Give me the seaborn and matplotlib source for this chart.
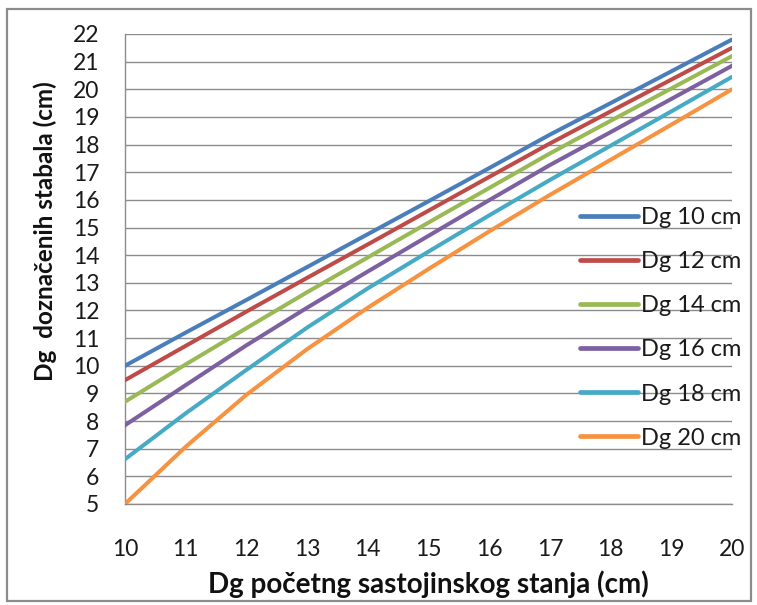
import matplotlib
matplotlib.use("Agg")
import matplotlib.pyplot as plt
import seaborn as sns
import pandas as pd
from matplotlib.patches import Rectangle

# Initial stand mean diameter (cm)
dg_start = [10, 11, 12, 13, 14, 15, 16, 17, 18, 19, 20]

# Mean diameter of marked trees (cm) for each stand class
dg_10 = [10.00, 11.20, 12.38, 13.57, 14.76, 15.95, 17.15, 18.36, 19.50, 20.65, 21.80]
dg_12 = [9.48, 10.72, 11.96, 13.18, 14.39, 15.61, 16.83, 18.04, 19.20, 20.35, 21.50]
dg_14 = [8.70, 10.05, 11.36, 12.66, 13.92, 15.18, 16.43, 17.68, 18.86, 20.03, 21.20]
dg_16 = [7.85, 9.30, 10.74, 12.10, 13.41, 14.70, 15.99, 17.26, 18.45, 19.65, 20.85]
dg_18 = [6.62, 8.28, 9.85, 11.38, 12.80, 14.13, 15.44, 16.72, 17.96, 19.20, 20.45]
dg_20 = [5.00, 7.07, 8.95, 10.60, 12.10, 13.50, 14.86, 16.18, 17.45, 18.72, 20.00]

series_names = ["Dg 10 cm", "Dg 12 cm", "Dg 14 cm", "Dg 16 cm", "Dg 18 cm", "Dg 20 cm"]
series_values = [dg_10, dg_12, dg_14, dg_16, dg_18, dg_20]
colors = ["#4A7EBB", "#BE4B48", "#98B954", "#7D60A0", "#46AAC5", "#F69240"]

x_ticks = list(range(10, 21))
y_ticks = list(range(5, 23))

rows = []
for name, vals in zip(series_names, series_values):
    for x, y in zip(dg_start, vals):
        rows.append({"x": x, "y": y, "serija": name})
df = pd.DataFrame(rows)

sns.set_style("white")
plt.rcParams["font.family"] = ["Lato", "DejaVu Sans"]

grid_c = "#8C8C8C"
fig = plt.figure(figsize=(7.57, 6.05), dpi=100)
ax = fig.add_axes([125 / 757, 1 - 504 / 605, (732 - 125) / 757, (504 - 34) / 605])

sns.lineplot(data=df, x="x", y="y", hue="serija", hue_order=series_names,
             palette=colors, linewidth=2.9, ax=ax, legend=True, zorder=3)

ax.set_xlim(10, 20)
ax.set_ylim(5, 22)
ax.set_xticks(x_ticks)
ax.set_yticks(y_ticks)
ax.grid(axis="y", color=grid_c, linewidth=1.0, zorder=0)
ax.grid(axis="x", visible=False)
for s in ["top", "right"]:
    ax.spines[s].set_visible(False)
for s in ["left", "bottom"]:
    ax.spines[s].set_color(grid_c)
    ax.spines[s].set_linewidth(1.0)
ax.tick_params(axis="both", direction="out", length=6.5, width=1.0,
               color=grid_c, labelsize=16.5, labelcolor="#1a1a1a")
ax.tick_params(axis="y", pad=12)
ax.tick_params(axis="x", pad=19)

ax.set_xlabel("Dg početng sastojinskog stanja (cm)", fontsize=20,
              fontweight="bold", color="#111111", labelpad=7)
ax.set_ylabel("Dg  doznačenih stabala (cm)", fontsize=17.5,
              fontweight="bold", color="#111111")
ax.yaxis.set_label_coords(-0.112, 0.58)

handles, labels = ax.get_legend_handles_labels()
leg = ax.legend(handles, labels, loc="upper left", frameon=False,
                bbox_to_anchor=(580 / 757, 1 - 207 / 605),
                bbox_transform=fig.transFigure, borderpad=0, borderaxespad=0,
                handlelength=2.45, handletextpad=0.12, labelspacing=0.98,
                fontsize=17)
for line in leg.get_lines():
    line.set_linewidth(3.4)
for t in leg.get_texts():
    t.set_color("#1a1a1a")

fig.patches.append(Rectangle((7 / 757, 1 - 601 / 605), (751 - 7) / 757, (601 - 9) / 605,
                             transform=fig.transFigure, fill=False,
                             edgecolor="#8C8C8C", linewidth=1.6))

fig.savefig("out.png", dpi=100)
